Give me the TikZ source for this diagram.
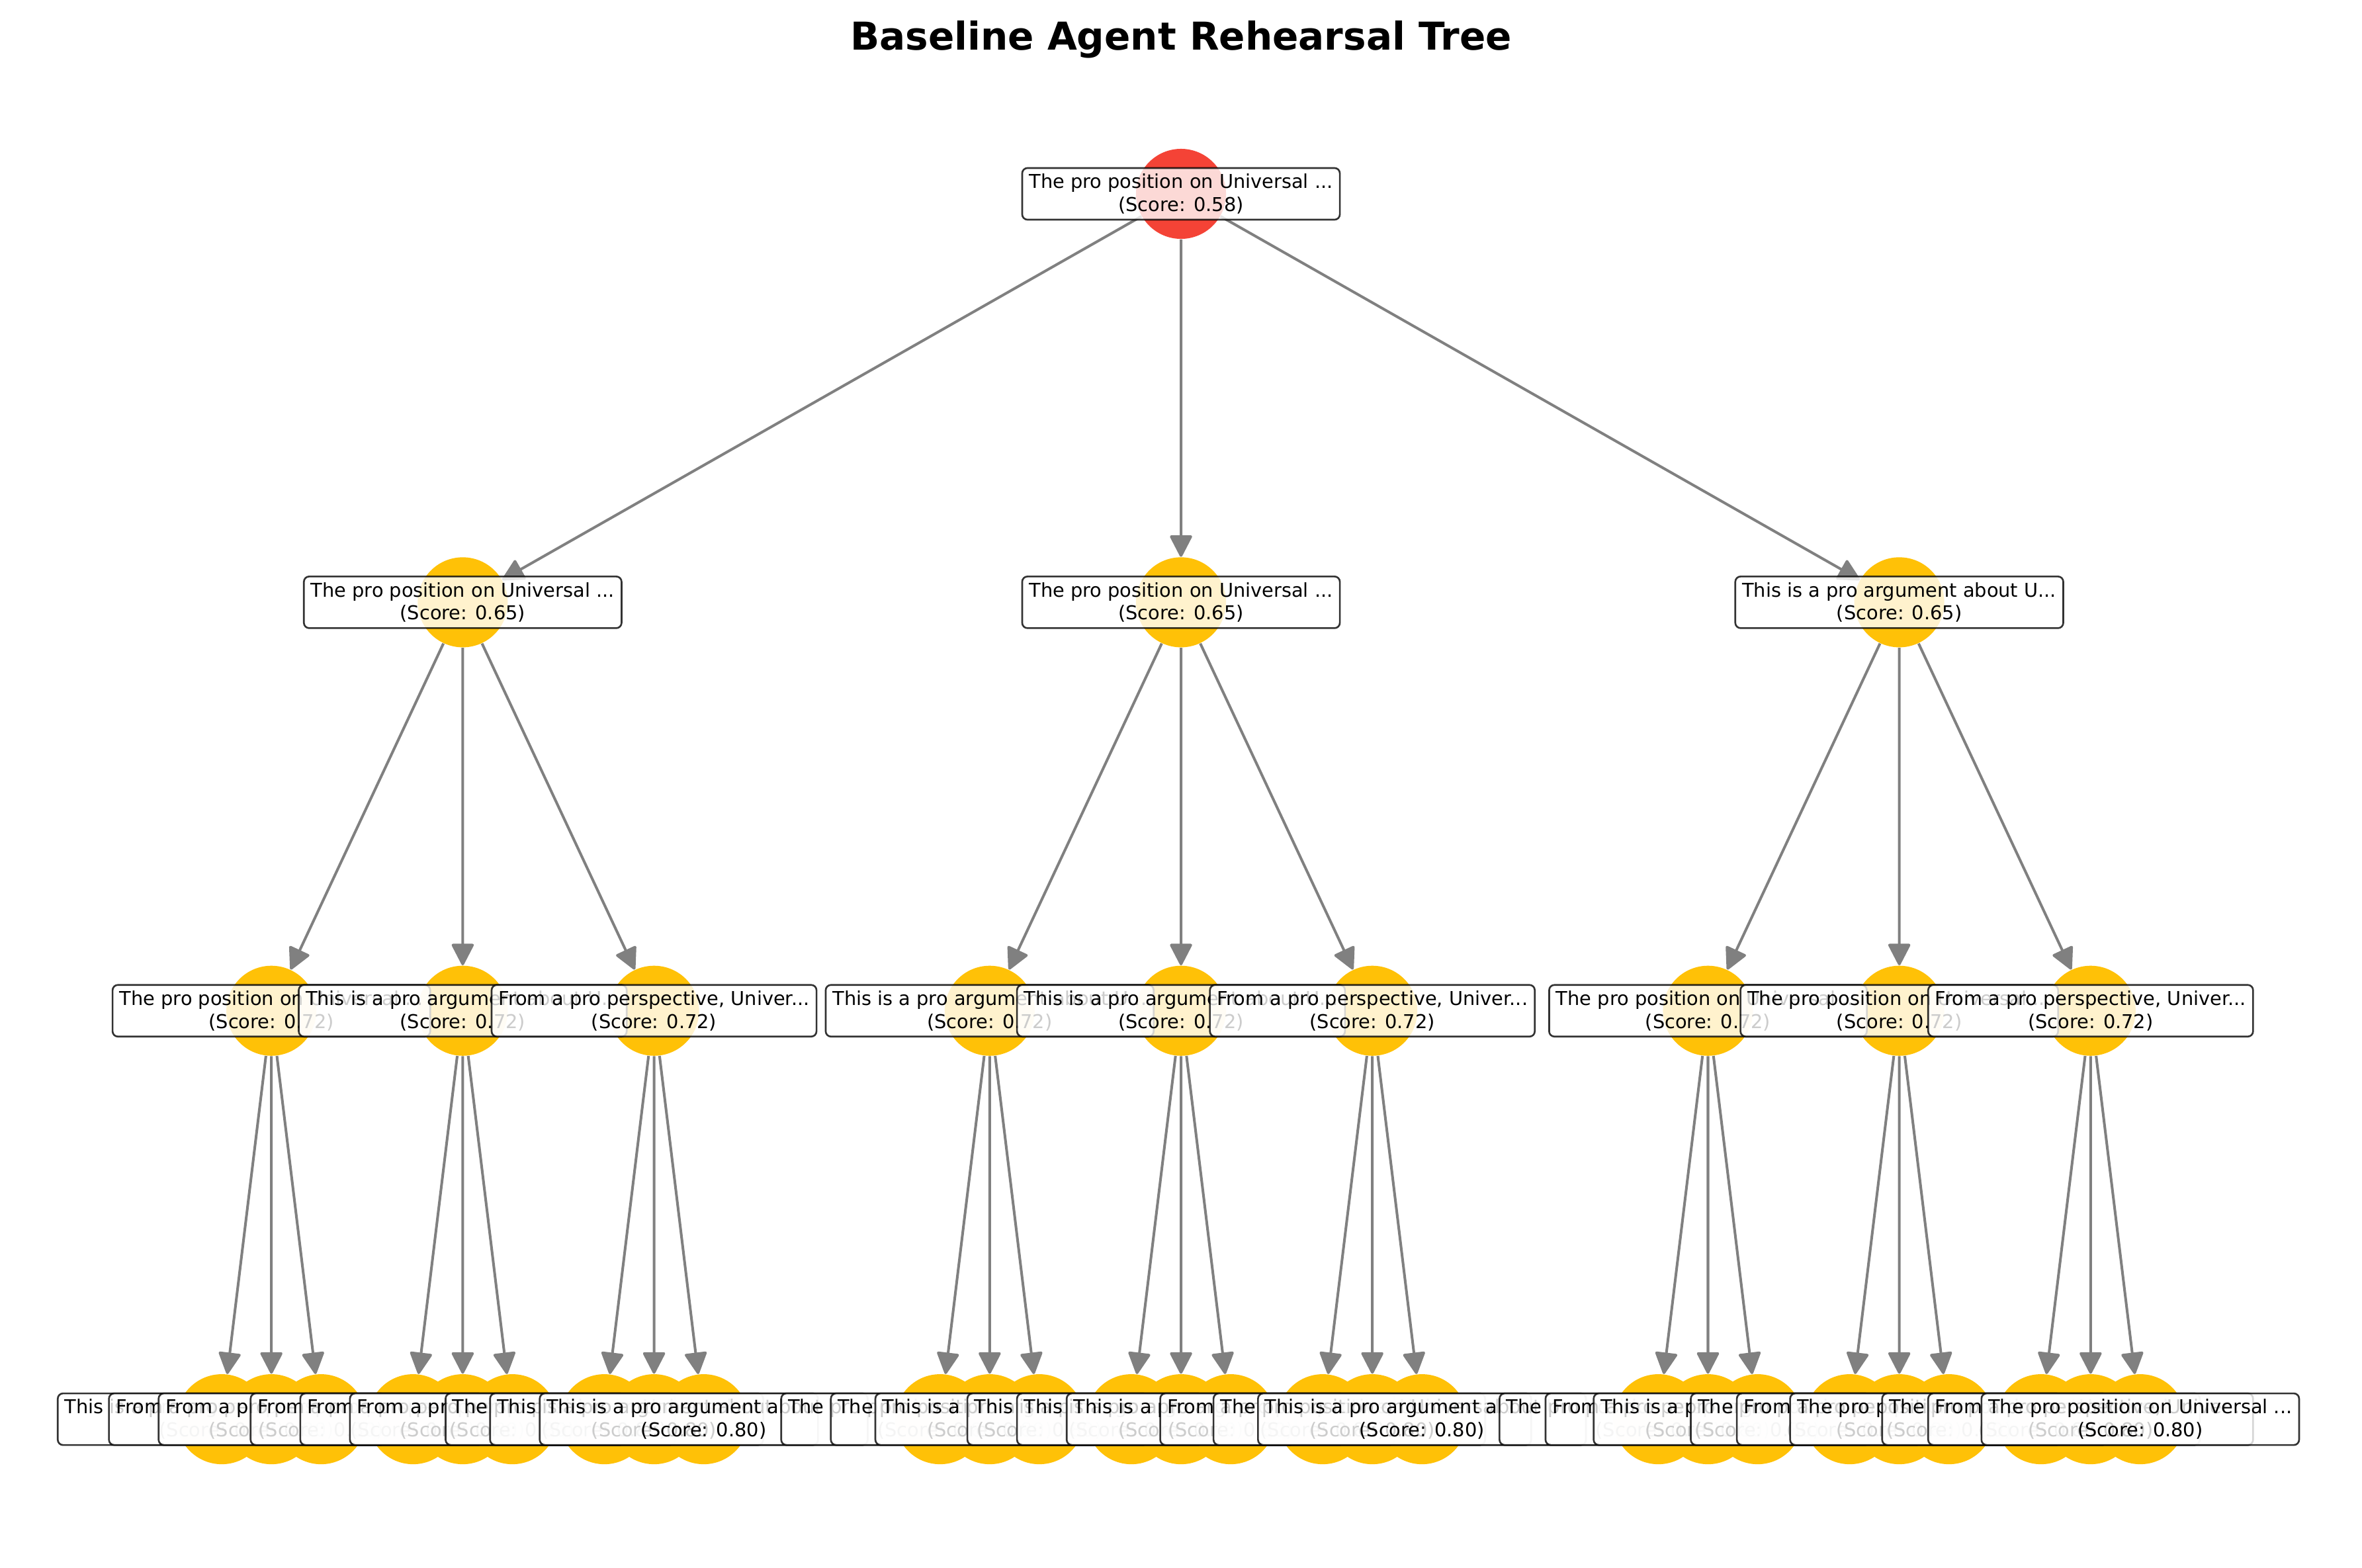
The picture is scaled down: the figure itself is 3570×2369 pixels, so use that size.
\documentclass[tikz,border=0pt]{standalone}
\usepackage{fontspec}
\usetikzlibrary{arrows.meta}
\newfontfamily\labelfont{DejaVu Sans}
\newfontfamily\titlefont{DejaVu Sans}
\definecolor{rootred}{HTML}{F44336}
\definecolor{nodeamber}{HTML}{FFC107}
\definecolor{edgegray}{HTML}{808080}
\newcommand\lblthe{The pro position on Universal ...}
\newcommand\lblthis{This is a pro argument about U...}
\newcommand\lblfrom{From a pro perspective, Univer...}
\tikzset{
  dot/.style={circle, fill=nodeamber, minimum size=1.36cm, inner sep=0pt},
  lbl/.style={draw=black, fill=white, draw opacity=0.8, fill opacity=0.8,
    text opacity=1, line width=0.75pt, rounded corners=0.8mm, align=center,
    inner xsep=3pt, inner ysep=1pt, minimum height=0.78cm,
    font={\labelfont\fontsize{8.2pt}{9.8pt}\selectfont}}
}
\begin{document}
\begin{tikzpicture}[x=0.01cm, y=-0.01cm, level distance=6.17cm,
  level 1/.style={sibling distance=10.85cm},
  level 2/.style={sibling distance=2.89cm},
  level 3/.style={sibling distance=0.75cm},
  edge from parent/.style={draw=edgegray, line width=1.14pt,
    -{Triangle[length=3.5mm, width=3.5mm, round]}}]
  \useasboundingbox (0,0) rectangle (3570,2369);
  \node[font={\titlefont\bfseries\fontsize{16.5pt}{20pt}\selectfont}, anchor=base]
    (title) at (1785,75) {Baseline Agent Rehearsal Tree};
  \node[dot, fill=rootred] (root) at (1785,293) {}
    child foreach \p in {a,b,c} {node[dot] (\p) {}
      child foreach \i in {1,2,3} {node[dot] (\p\i) {}
        child foreach \j in {1,2,3} {node[dot] (\p\i\j) {}}}};
  % labels go last, left to right, so each box covers the one before
  \node[lbl] (l-root) at (root) {\lblthe\\(Score: 0.58)};
  \foreach \n/\t in {a/\lblthe, b/\lblthe, c/\lblthis}
    \node[lbl] (l-\n) at (\n) {\t\\(Score: 0.65)};
  \foreach \n/\t in {a1/\lblthe, a2/\lblthis, a3/\lblfrom,
      b1/\lblthis, b2/\lblthis, b3/\lblfrom,
      c1/\lblthe, c2/\lblthe, c3/\lblfrom}
    \node[lbl] (l-\n) at (\n) {\t\\(Score: 0.72)};
  \foreach \n/\t in {a11/\lblthis, a12/\lblfrom, a13/\lblfrom,
      a21/\lblfrom, a22/\lblfrom, a23/\lblfrom,
      a31/\lblthe, a32/\lblthis, a33/\lblthis,
      b11/\lblthe, b12/\lblthe, b13/\lblthis,
      b21/\lblthis, b22/\lblthis, b23/\lblthis,
      b31/\lblfrom, b32/\lblthe, b33/\lblthis,
      c11/\lblthe, c12/\lblfrom, c13/\lblthis,
      c21/\lblthe, c22/\lblfrom, c23/\lblthe,
      c31/\lblthe, c32/\lblfrom, c33/\lblthe}
    \node[lbl] (l-\n) at (\n) {\t\\(Score: 0.80)};
\end{tikzpicture}
\end{document}
